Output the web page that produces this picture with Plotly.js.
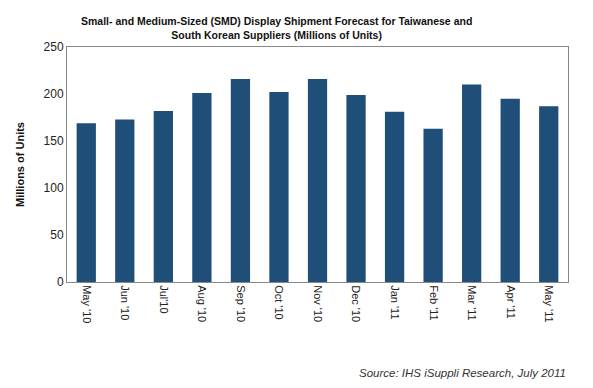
<!DOCTYPE html>
<html>
<head>
<meta charset="utf-8">
<script src="https://cdn.plot.ly/plotly-3.0.1.min.js"></script>
<style>html,body{margin:0;padding:0;background:#fff;}#chart{width:593px;height:388px;}</style>
</head>
<body>
<div id="chart"></div>
<script>
const categories = ["May '10","Jun '10","Jul'10","Aug '10","Sep '10","Oct '10","Nov '10","Dec '10","Jan '11","Feb '11","Mar '11","Apr '11","May '11"];
const shipments = [169, 173, 182, 201, 216, 202, 216, 199, 181, 163, 210, 195, 187];
const yTicks = [0, 50, 100, 150, 200, 250];

const data = [{
  type: 'bar',
  x: categories,
  y: shipments,
  marker: {color: '#1F4E79'},
  width: 0.5,
  hoverinfo: 'x+y'
}];

const layout = {
  width: 593, height: 388,
  margin: {l: 67, r: 25, t: 47, b: 106},
  paper_bgcolor: '#fff', plot_bgcolor: '#fff',
  font: {family: 'Liberation Sans, Arial, sans-serif', color: '#222'},
  xaxis: {
    type: 'category',
    tickangle: 90,
    tickfont: {size: 11, color: '#222'},
    showline: true, linecolor: '#888', linewidth: 1, mirror: true,
    ticks: '', showgrid: false, fixedrange: true
  },
  yaxis: {
    range: [0, 250],
    tickvals: yTicks,
    tickfont: {size: 12, color: '#222'},
    showline: true, linecolor: '#888', linewidth: 1, mirror: true,
    showgrid: false, zeroline: false, ticks: '', ticklen: 0,
    title: {text: '<b>Millions of Units</b>', font: {size: 11, color: '#111'}, standoff: 16},
    fixedrange: true
  },
  showlegend: false,
  annotations: [{
    text: '<b>Small- and Medium-Sized (SMD) Display Shipment Forecast for Taiwanese and<br>South Korean Suppliers (Millions of Units)</b>',
    xref: 'paper', yref: 'paper', x: 0.419, y: 1.146, xanchor: 'center', yanchor: 'top',
    showarrow: false, align: 'center', font: {size: 10.5, color: '#111'}
  }, {
    text: '<i>Source: IHS iSuppli Research, July 2011</i>',
    xref: 'paper', yref: 'paper', x: 1, y: -0.387, xanchor: 'right', yanchor: 'middle',
    showarrow: false, font: {size: 11.5, color: '#333'}
  }]
};

Plotly.newPlot('chart', data, layout, {displayModeBar: false, staticPlot: true});
</script>
</body>
</html>
